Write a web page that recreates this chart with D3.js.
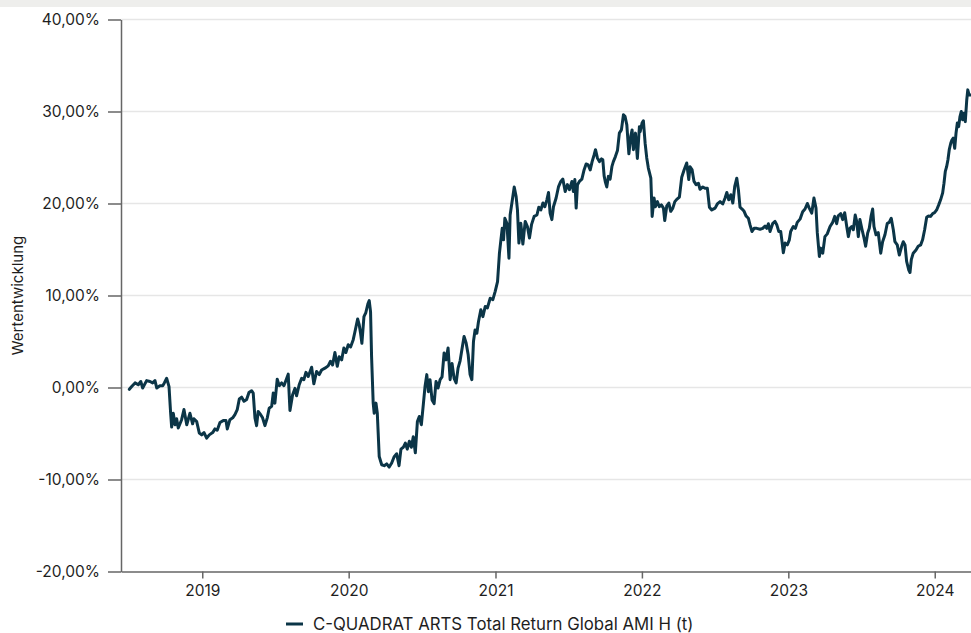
<!DOCTYPE html>
<html>
<head>
<meta charset="utf-8">
<script src="https://cdn.jsdelivr.net/npm/d3@7"></script>
<style>
	body { margin: 0; background: #fff; }
	svg { display: block; font-family: Inter, Roboto, sans-serif; }
</style>
</head>
<body>
<svg id="chart" width="971" height="633"></svg>
<script>
(function () {

	var seriesName = "C-QUADRAT ARTS Total Return Global AMI H (t)";
	var axisTitle = "Wertentwicklung";
	var yTicks = [-20, -10, 0, 10, 20, 30, 40];
	var xDomainYears = [2018.445, 2024.247];

	// dates as decimal years
	var years = [
		2018.502, 2018.518, 2018.541, 2018.563, 2018.580, 2018.593, 2018.620, 2018.643, 2018.661, 2018.677,
		2018.689, 2018.711, 2018.730, 2018.741, 2018.757, 2018.773, 2018.784, 2018.791, 2018.802, 2018.814,
		2018.825, 2018.836, 2018.859, 2018.875, 2018.894, 2018.916, 2018.934, 2018.943, 2018.962, 2018.980,
		2018.996, 2019.012, 2019.030, 2019.048, 2019.071, 2019.087, 2019.102, 2019.121, 2019.143, 2019.162,
		2019.171, 2019.189, 2019.208, 2019.223, 2019.239, 2019.253, 2019.269, 2019.285, 2019.303, 2019.319,
		2019.337, 2019.348, 2019.360, 2019.371, 2019.382, 2019.399, 2019.412, 2019.428, 2019.444, 2019.457,
		2019.474, 2019.485, 2019.496, 2019.512, 2019.526, 2019.542, 2019.558, 2019.587, 2019.599, 2019.617,
		2019.633, 2019.644, 2019.662, 2019.679, 2019.694, 2019.708, 2019.724, 2019.747, 2019.762, 2019.781,
		2019.799, 2019.815, 2019.838, 2019.860, 2019.876, 2019.890, 2019.906, 2019.922, 2019.935, 2019.952,
		2019.967, 2019.981, 2019.997, 2020.013, 2020.031, 2020.042, 2020.061, 2020.072, 2020.081, 2020.090,
		2020.104, 2020.117, 2020.131, 2020.140, 2020.149, 2020.156, 2020.167, 2020.174, 2020.186, 2020.195,
		2020.201, 2020.208, 2020.225, 2020.242, 2020.259, 2020.276, 2020.293, 2020.309, 2020.327, 2020.343,
		2020.356, 2020.372, 2020.386, 2020.399, 2020.413, 2020.427, 2020.440, 2020.454, 2020.468, 2020.481,
		2020.495, 2020.509, 2020.520, 2020.532, 2020.543, 2020.554, 2020.568, 2020.582, 2020.595, 2020.609,
		2020.623, 2020.636, 2020.650, 2020.663, 2020.677, 2020.691, 2020.704, 2020.718, 2020.732, 2020.745,
		2020.759, 2020.773, 2020.786, 2020.800, 2020.814, 2020.827, 2020.839, 2020.850, 2020.861, 2020.873,
		2020.884, 2020.900, 2020.914, 2020.930, 2020.945, 2020.964, 2020.982, 2020.998, 2021.014, 2021.027,
		2021.037, 2021.046, 2021.055, 2021.064, 2021.078, 2021.092, 2021.100, 2021.112, 2021.128, 2021.141,
		2021.150, 2021.160, 2021.173, 2021.187, 2021.203, 2021.218, 2021.232, 2021.246, 2021.264, 2021.283,
		2021.296, 2021.310, 2021.324, 2021.337, 2021.351, 2021.362, 2021.373, 2021.385, 2021.396, 2021.414,
		2021.430, 2021.446, 2021.460, 2021.476, 2021.491, 2021.505, 2021.522, 2021.532, 2021.542, 2021.551,
		2021.560, 2021.573, 2021.590, 2021.605, 2021.619, 2021.633, 2021.647, 2021.660, 2021.674, 2021.683,
		2021.696, 2021.710, 2021.724, 2021.733, 2021.742, 2021.751, 2021.760, 2021.771, 2021.783, 2021.795,
		2021.805, 2021.819, 2021.833, 2021.846, 2021.860, 2021.874, 2021.885, 2021.897, 2021.911, 2021.924,
		2021.933, 2021.942, 2021.956, 2021.969, 2021.983, 2021.988, 2022.001, 2022.010, 2022.022, 2022.033,
		2022.044, 2022.061, 2022.070, 2022.083, 2022.092, 2022.106, 2022.119, 2022.133, 2022.147, 2022.156,
		2022.170, 2022.184, 2022.197, 2022.211, 2022.225, 2022.238, 2022.256, 2022.272, 2022.288, 2022.306,
		2022.320, 2022.329, 2022.343, 2022.356, 2022.370, 2022.386, 2022.397, 2022.416, 2022.431, 2022.447,
		2022.461, 2022.477, 2022.500, 2022.515, 2022.534, 2022.552, 2022.568, 2022.580, 2022.593, 2022.607,
		2022.621, 2022.634, 2022.648, 2022.659, 2022.670, 2022.684, 2022.698, 2022.711, 2022.727, 2022.738,
		2022.752, 2022.766, 2022.784, 2022.807, 2022.825, 2022.841, 2022.853, 2022.864, 2022.875, 2022.894,
		2022.909, 2022.921, 2022.935, 2022.948, 2022.957, 2022.966, 2022.978, 2022.993, 2023.007, 2023.016,
		2023.034, 2023.048, 2023.061, 2023.080, 2023.098, 2023.114, 2023.130, 2023.143, 2023.160, 2023.175,
		2023.189, 2023.198, 2023.212, 2023.221, 2023.235, 2023.250, 2023.266, 2023.285, 2023.303, 2023.317,
		2023.330, 2023.341, 2023.358, 2023.371, 2023.385, 2023.399, 2023.410, 2023.421, 2023.433, 2023.444,
		2023.457, 2023.467, 2023.478, 2023.489, 2023.503, 2023.517, 2023.528, 2023.542, 2023.553, 2023.565,
		2023.576, 2023.585, 2023.599, 2023.614, 2023.631, 2023.644, 2023.660, 2023.676, 2023.689, 2023.703,
		2023.717, 2023.728, 2023.744, 2023.758, 2023.774, 2023.785, 2023.797, 2023.808, 2023.822, 2023.831,
		2023.840, 2023.853, 2023.872, 2023.887, 2023.904, 2023.917, 2023.931, 2023.945, 2023.958, 2023.972,
		2023.986, 2023.999, 2024.013, 2024.027, 2024.040, 2024.054, 2024.063, 2024.072, 2024.081, 2024.090,
		2024.099, 2024.109, 2024.117, 2024.126, 2024.136, 2024.145, 2024.154, 2024.163, 2024.172, 2024.181,
		2024.190, 2024.199, 2024.208, 2024.218, 2024.225, 2024.234, 2024.245
	];

	// cumulative performance in %
	var returns = [
		-0.2, 0.1, 0.5, 0.3, 0.65, -0.05, 0.75, 0.65, 0.5, 0.75,
		-0.05, 0.2, 0.2, 0.5, 1.0, 0.1, -2.8, -4.3, -2.8, -4.05,
		-3.4, -4.4, -3.5, -2.4, -4.05, -2.8, -3.95, -3.4, -3.7, -4.95,
		-5.15, -4.9, -5.5, -5.15, -4.9, -4.5, -4.65, -3.8, -3.6, -3.6,
		-4.5, -3.5, -3.3, -2.95, -2.4, -1.25, -1.05, -1.5, -1.3, -0.55,
		-0.35, -0.6, -3.3, -4.15, -2.6, -2.95, -3.3, -4.15, -3.3, -2.25,
		-2.05, -0.6, -1.7, 0.9, 0.2, 0.5, 0.2, 1.45, -2.5, -0.8,
		-0.1, -0.9, 0.3, 1.0, 0.85, 1.65, 1.2, 2.2, 0.4, 1.75,
		1.4, 1.9, 2.1, 2.35, 2.85, 2.45, 3.8, 2.3, 3.35, 3.0,
		4.3, 3.8, 4.65, 4.4, 5.2, 6.0, 7.45, 6.8, 5.9, 4.8,
		7.7, 8.15, 9.1, 9.45, 8.25, 3.35, -1.7, -2.8, -1.7, -2.8,
		-4.95, -7.5, -8.4, -8.5, -8.3, -8.65, -8.2, -7.55, -7.2, -8.5,
		-6.7, -6.5, -6.05, -6.7, -5.85, -6.5, -5.35, -7.1, -3.7, -3.15,
		-4.05, -1.75, 0.1, 1.4, -0.45, 0.85, -1.35, -1.75, 0.65, -0.05,
		0.85, 1.15, 3.75, 3.0, 4.3, 0.85, 2.6, 1.0, 0.5, 2.1,
		2.9, 4.3, 5.55, 4.85, 3.55, 1.4, 0.85, 5.0, 6.25, 5.9,
		7.15, 8.45, 7.7, 8.8, 8.65, 9.7, 9.55, 10.45, 11.5, 14.6,
		16.05, 17.3, 16.05, 18.4, 17.85, 14.05, 18.75, 20.05, 21.8, 20.75,
		19.3, 15.7, 17.85, 15.6, 18.05, 17.5, 16.25, 17.7, 18.6, 18.75,
		19.6, 19.3, 20.05, 19.65, 20.4, 21.2, 18.95, 18.25, 19.65, 20.6,
		21.8, 22.4, 22.65, 21.3, 22.05, 21.5, 22.4, 21.3, 22.6, 19.5,
		22.05, 22.4, 22.65, 23.65, 24.3, 24.2, 23.65, 24.55, 25.3, 25.85,
		24.95, 24.55, 24.85, 24.75, 23.0, 22.3, 21.8, 22.95, 22.65, 24.0,
		24.55, 25.1, 25.75, 27.65, 28.0, 29.65, 29.45, 28.55, 25.4, 27.3,
		28.0, 25.85, 27.65, 24.9, 28.35, 27.8, 28.75, 29.0, 26.55, 24.95,
		23.85, 22.75, 18.6, 20.6, 19.65, 20.2, 19.65, 19.85, 19.5, 18.15,
		19.75, 20.05, 19.15, 19.5, 20.2, 20.45, 20.7, 22.85, 23.65, 24.4,
		22.6, 24.0, 23.65, 22.4, 22.05, 22.2, 21.55, 21.8, 21.65, 21.65,
		19.6, 19.3, 19.5, 19.95, 20.2, 19.95, 20.6, 21.2, 20.4, 20.95,
		20.05, 21.85, 22.75, 21.5, 19.6, 19.4, 19.15, 18.65, 18.4, 17.7,
		16.95, 17.3, 17.3, 17.2, 17.3, 17.55, 17.3, 17.8, 16.95, 17.85,
		18.05, 17.7, 16.95, 16.95, 15.85, 14.65, 15.7, 15.5, 16.05, 16.95,
		17.5, 17.3, 17.95, 18.3, 19.1, 19.4, 20.0, 19.5, 18.95, 20.6,
		19.5, 16.8, 14.25, 15.15, 14.6, 16.4, 16.7, 17.5, 17.95, 18.6,
		17.8, 18.65, 18.9, 18.25, 19.0, 17.5, 16.4, 17.3, 17.5, 17.15,
		18.75, 18.05, 16.4, 18.25, 17.2, 16.25, 15.35, 16.8, 17.3, 18.6,
		19.4, 17.5, 16.6, 16.85, 14.6, 15.85, 16.6, 17.85, 17.95, 18.4,
		17.15, 15.85, 15.5, 14.4, 15.35, 15.85, 15.5, 13.7, 12.8, 12.5,
		13.9, 14.6, 14.95, 15.35, 15.5, 16.05, 17.15, 18.5, 18.65, 18.6,
		18.9, 19.0, 19.3, 19.85, 20.4, 21.15, 22.2, 23.5, 24.0, 24.75,
		25.85, 26.55, 26.9, 27.1, 26.0, 27.65, 28.75, 28.35, 29.45, 30.0,
		29.1, 29.8, 28.9, 31.25, 32.35, 31.8, 31.8
	];

	function toDate(t) {
		var y = Math.floor(t);
		var s = Date.UTC(y, 0, 1), e = Date.UTC(y + 1, 0, 1);
		return new Date(s + (t - y) * (e - s));
	}

	var data = years.map(function (t, i) { return {date: toDate(t), value: returns[i]}; });

	var width = 971, height = 633;
	var margin = {top: 19.5, right: 0, bottom: 61.5, left: 121};
	var textColor = "#1e1e1e";

	var svg = d3.select("#chart");

	// thin grey strip along the top
	svg.append("rect")
		.attr("x", 0).attr("y", 0)
		.attr("width", width).attr("height", 7)
		.attr("fill", "#eeeeec");

	var xScale = d3.scaleUtc()
		.domain(xDomainYears.map(toDate))
		.range([margin.left, width - margin.right]);

	var yScale = d3.scaleLinear()
		.domain([d3.min(yTicks), d3.max(yTicks)])
		.range([height - margin.bottom, margin.top]);

	var locale = d3.formatLocale({decimal: ",", thousands: ".", grouping: [3], currency: ["", " €"], minus: "-"});
	var pct = locale.format(".2f");

	// gridlines
	svg.append("g")
		.selectAll("line")
		.data(yTicks.filter(function (d) { return d > d3.min(yTicks); }))
		.enter()
		.append("line")
		.attr("x1", margin.left)
		.attr("x2", width - margin.right)
		.attr("y1", function (d) { return yScale(d); })
		.attr("y2", function (d) { return yScale(d); })
		.attr("stroke", "#e6e6e6")
		.attr("stroke-width", 1.5);

	var yAxis = svg.append("g")
		.attr("transform", "translate(" + margin.left + ",0)")
		.call(d3.axisLeft(yScale)
			.tickValues(yTicks)
			.tickSize(13)
			.tickSizeOuter(0)
			.tickPadding(8)
			.tickFormat(function (d) { return pct(d) + "%"; }));

	var xAxis = svg.append("g")
		.attr("transform", "translate(0," + (height - margin.bottom) + ")")
		.call(d3.axisBottom(xScale)
			.ticks(d3.utcYear.every(1))
			.tickSize(7)
			.tickSizeOuter(0)
			.tickPadding(6)
			.tickFormat(d3.utcFormat("%Y")));

	[yAxis, xAxis].forEach(function (ax) {
		ax.select(".domain").attr("stroke", "#666").attr("stroke-width", 1.5);
		ax.selectAll(".tick line").attr("stroke", "#666").attr("stroke-width", 1.5);
		ax.selectAll(".tick text")
			.attr("fill", textColor)
			.style("font-size", "15.5px")
			.style("font-family", "Inter, Roboto, sans-serif");
	});

	svg.append("text")
		.attr("transform", "translate(23," + ((margin.top + height - margin.bottom) / 2) + ") rotate(-90)")
		.attr("text-anchor", "middle")
		.attr("fill", textColor)
		.style("font-size", "15px")
		.text(axisTitle);

	var line = d3.line()
		.x(function (d) { return xScale(d.date); })
		.y(function (d) { return yScale(d.value); });

	svg.append("path")
		.datum(data)
		.attr("d", line)
		.attr("fill", "none")
		.attr("stroke", "#0b3547")
		.attr("stroke-width", 3)
		.attr("stroke-linejoin", "round")
		.attr("stroke-linecap", "round");

	// legend
	var legend = svg.append("g").attr("transform", "translate(286,624)");
	legend.append("line")
		.attr("x1", 0).attr("x2", 17)
		.attr("y1", 0).attr("y2", 0)
		.attr("stroke", "#0b3547")
		.attr("stroke-width", 3);
	legend.append("text")
		.attr("x", 27)
		.attr("y", 0)
		.attr("dy", "0.35em")
		.attr("fill", textColor)
		.style("font-size", "16.8px")
		.text(seriesName);

}());
</script>
</body>
</html>
